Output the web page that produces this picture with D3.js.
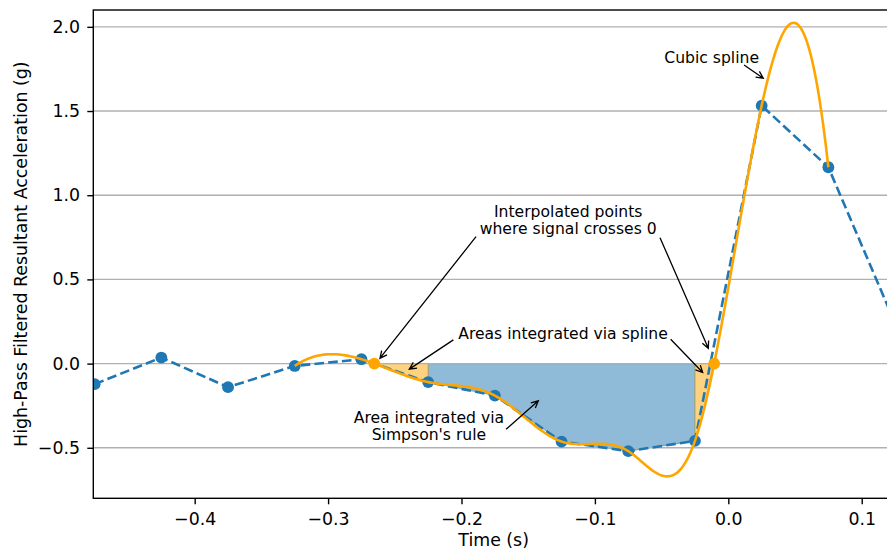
<!DOCTYPE html>
<meta charset="utf-8">
<script src="https://d3js.org/d3.v7.min.js"></script>
<style>
  body { margin: 0; background: #fff; }
  text { font-family: "DejaVu Sans", sans-serif; }
</style>
<div id="chart"></div>
<script>
// sample times (s) and high-pass filtered acceleration (g)
var times = [-0.475, -0.425, -0.375, -0.325, -0.275, -0.225, -0.175, -0.125, -0.075, -0.025, 0.025, 0.075, 0.125];
var accel = [-0.122, 0.036, -0.140, -0.014, 0.026, -0.110, -0.190, -0.463, -0.520, -0.459, 1.532, 1.166, 0.240];

// which samples the spline and Simpson's rule use (index ranges)
var splineRange = [3, 11];
var simpsonRange = [5, 9];

var xTicks = [-0.4, -0.3, -0.2, -0.1, 0.0, 0.1];
var yTicks = [-0.5, 0.0, 0.5, 1.0, 1.5, 2.0];

// annotations: text lines, text anchor (t, baseline g), arrows from -> to
var noteLines = [["Cubic spline"], ["Interpolated points", "where signal crosses 0"], ["Areas integrated via spline"], ["Area integrated via", "Simpson's rule"]];
var noteAnchor = [[-0.0125, 1.787], [-0.1200, 0.868], [-0.1239, 0.149], [-0.2244, -0.352]];
var arrowFrom = [[0.0118, 1.773], [-0.1891, 0.754], [-0.0512, 0.748], [-0.2061, 0.141], [-0.0432, 0.145], [-0.1666, -0.390]];
var arrowTo = [[0.0262, 1.695], [-0.2611, 0.032], [-0.0150, 0.091], [-0.2391, -0.033], [-0.0192, -0.053], [-0.1424, -0.221]];

var W = 887, H = 553;
var margin = {left: 93.3, top: 10, right: 894, bottom: 498.3};

var blue = "#1f77b4", orange = "#ffa500";

var x = d3.scaleLinear().domain([-0.476, 0.1242]).range([margin.left, margin.right]);
var y = d3.scaleLinear().domain([-0.8, 2.1]).range([margin.bottom, margin.top]);

var svg = d3.select("#chart").append("svg")
  .attr("width", W)
  .attr("height", H);

svg.append("defs").append("clipPath").attr("id", "plotclip")
  .append("rect")
  .attr("x", margin.left).attr("y", margin.top)
  .attr("width", margin.right - margin.left)
  .attr("height", margin.bottom - margin.top);

// ---- not-a-knot cubic spline through the chosen samples ----
function makeSpline(xs, ys) {
  var n = xs.length, h = [];
  for (var i = 0; i < n - 1; i++) h.push(xs[i + 1] - xs[i]);
  var A = [], b = [];
  for (var r = 0; r < n; r++) { A.push(new Array(n).fill(0)); b.push(0); }
  A[0][0] = h[1]; A[0][1] = -(h[0] + h[1]); A[0][2] = h[0];
  for (var i = 1; i < n - 1; i++) {
    A[i][i - 1] = h[i - 1];
    A[i][i] = 2 * (h[i - 1] + h[i]);
    A[i][i + 1] = h[i];
    b[i] = 6 * ((ys[i + 1] - ys[i]) / h[i] - (ys[i] - ys[i - 1]) / h[i - 1]);
  }
  A[n - 1][n - 3] = h[n - 2]; A[n - 1][n - 2] = -(h[n - 3] + h[n - 2]); A[n - 1][n - 1] = h[n - 3];
  // gaussian elimination with pivoting
  for (var c = 0; c < n; c++) {
    var p = c;
    for (var r = c + 1; r < n; r++) if (Math.abs(A[r][c]) > Math.abs(A[p][c])) p = r;
    var tmp = A[c]; A[c] = A[p]; A[p] = tmp;
    var tb = b[c]; b[c] = b[p]; b[p] = tb;
    for (var r = c + 1; r < n; r++) {
      var f = A[r][c] / A[c][c];
      for (var k = c; k < n; k++) A[r][k] -= f * A[c][k];
      b[r] -= f * b[c];
    }
  }
  var M = new Array(n).fill(0);
  for (var r = n - 1; r >= 0; r--) {
    var s = b[r];
    for (var k = r + 1; k < n; k++) s -= A[r][k] * M[k];
    M[r] = s / A[r][r];
  }
  return function(t) {
    var i = 0;
    while (i < n - 2 && t > xs[i + 1]) i++;
    var hh = h[i], a = (xs[i + 1] - t) / hh, bb = (t - xs[i]) / hh;
    return a * ys[i] + bb * ys[i + 1] + ((a * a * a - a) * M[i] + (bb * bb * bb - bb) * M[i + 1]) * hh * hh / 6;
  };
}

var spT = times.slice(splineRange[0], splineRange[1] + 1);
var spV = accel.slice(splineRange[0], splineRange[1] + 1);
var spline = makeSpline(spT, spV);

function rootBetween(a, b) {
  var fa = spline(a);
  for (var k = 0; k < 60; k++) {
    var m = (a + b) / 2, fm = spline(m);
    if ((fm < 0) === (fa < 0)) { a = m; fa = fm; } else { b = m; }
  }
  return (a + b) / 2;
}
var cross1 = rootBetween(times[4], times[5]);
var cross2 = rootBetween(times[9], times[10]);

function sampleSpline(t0, t1, n) {
  return d3.range(n + 1).map(function(k) {
    var t = t0 + (t1 - t0) * k / n;
    return [t, spline(t)];
  });
}

var plot = svg.append("g").attr("clip-path", "url(#plotclip)");

// Simpson area (linear through samples)
var simpsonPts = d3.range(simpsonRange[0], simpsonRange[1] + 1).map(function(i) { return [times[i], accel[i]]; });
var areaGen = d3.area().x(function(d) { return x(d[0]); }).y0(y(0)).y1(function(d) { return y(d[1]); });

plot.append("path")
  .attr("d", areaGen(simpsonPts))
  .attr("fill", blue).attr("fill-opacity", 0.5)
  .attr("stroke", blue).attr("stroke-opacity", 0.5).attr("stroke-width", 1);

// spline-integrated slivers
[[cross1, times[simpsonRange[0]]], [times[simpsonRange[1]], cross2]].forEach(function(seg) {
  plot.append("path")
    .attr("d", areaGen(sampleSpline(seg[0], seg[1], 40)))
    .attr("fill", orange).attr("fill-opacity", 0.5)
    .attr("stroke", orange).attr("stroke-opacity", 0.5).attr("stroke-width", 1);
});

// grid
plot.append("g").selectAll("line").data(yTicks).enter().append("line")
  .attr("x1", margin.left).attr("x2", margin.right)
  .attr("y1", function(d) { return y(d); }).attr("y2", function(d) { return y(d); })
  .attr("stroke", "#b0b0b0").attr("stroke-width", 1.4);

// data line
var lineGen = d3.line().x(function(d) { return x(d[0]); }).y(function(d) { return y(d[1]); });
var pts = times.map(function(t, i) { return [t, accel[i]]; });

plot.append("path")
  .attr("d", lineGen(pts))
  .attr("fill", "none")
  .attr("stroke", blue).attr("stroke-width", 2.6)
  .attr("stroke-dasharray", "9.6,4.2");

plot.append("g").selectAll("circle").data(pts).enter().append("circle")
  .attr("cx", function(d) { return x(d[0]); })
  .attr("cy", function(d) { return y(d[1]); })
  .attr("r", 5.9).attr("fill", blue);

// spline
plot.append("path")
  .attr("d", lineGen(sampleSpline(spT[0], spT[spT.length - 1], 400)))
  .attr("fill", "none")
  .attr("stroke", orange).attr("stroke-width", 2.6);

plot.append("g").selectAll("circle").data([cross1, cross2]).enter().append("circle")
  .attr("cx", function(d) { return x(d); })
  .attr("cy", y(0))
  .attr("r", 5.9).attr("fill", orange);

// axes
var xAxis = svg.append("g")
  .attr("transform", "translate(0," + margin.bottom + ")")
  .call(d3.axisBottom(x).tickValues(xTicks).tickFormat(d3.format(".1f")).tickSize(6).tickPadding(8.2).tickSizeOuter(0));
var yAxis = svg.append("g")
  .attr("transform", "translate(" + margin.left + ",0)")
  .call(d3.axisLeft(y).tickValues(yTicks).tickFormat(d3.format(".1f")).tickSize(6).tickPadding(7.3).tickSizeOuter(0));

[xAxis, yAxis].forEach(function(ax) {
  ax.select(".domain").remove();
  ax.selectAll(".tick line").attr("stroke", "#000").attr("stroke-width", 1.4);
  ax.selectAll(".tick text").attr("fill", "#000").style("font-size", "17.36px").style("font-family", "DejaVu Sans");
});

// spines
svg.append("rect")
  .attr("x", margin.left).attr("y", margin.top)
  .attr("width", margin.right - margin.left)
  .attr("height", margin.bottom - margin.top)
  .attr("fill", "none").attr("stroke", "#000").attr("stroke-width", 1.4);

// axis labels
svg.append("text")
  .attr("x", (margin.left + margin.right) / 2)
  .attr("y", 546)
  .attr("text-anchor", "middle")
  .style("font-size", "17.36px")
  .text("Time (s)");

svg.append("text")
  .attr("transform", "translate(26.5," + (margin.top + margin.bottom) / 2 + ") rotate(-90)")
  .attr("text-anchor", "middle")
  .style("font-size", "17.36px")
  .text("High-Pass Filtered Resultant Acceleration (g)");

// annotations
var notes = svg.append("g");
noteLines.forEach(function(lines, i) {
  var t = notes.append("text")
    .attr("text-anchor", "middle")
    .style("font-size", "15.6px")
    .attr("fill", "#000");
  lines.forEach(function(s, j) {
    t.append("tspan")
      .attr("x", x(noteAnchor[i][0]))
      .attr("y", y(noteAnchor[i][1]) + j * 17)
      .text(s);
  });
});

arrowFrom.forEach(function(f, i) {
  var x0 = x(f[0]), y0 = y(f[1]), x1 = x(arrowTo[i][0]), y1 = y(arrowTo[i][1]);
  var dx = x1 - x0, dy = y1 - y0, len = Math.sqrt(dx * dx + dy * dy);
  var ux = dx / len, uy = dy / len, L = 7, Wd = 3.4;
  notes.append("path")
    .attr("d", "M" + x0 + "," + y0 + "L" + x1 + "," + y1 +
      "M" + (x1 - L * ux - Wd * uy) + "," + (y1 - L * uy + Wd * ux) +
      "L" + x1 + "," + y1 +
      "L" + (x1 - L * ux + Wd * uy) + "," + (y1 - L * uy - Wd * ux))
    .attr("fill", "none").attr("stroke", "#000").attr("stroke-width", 1.3);
});
</script>
